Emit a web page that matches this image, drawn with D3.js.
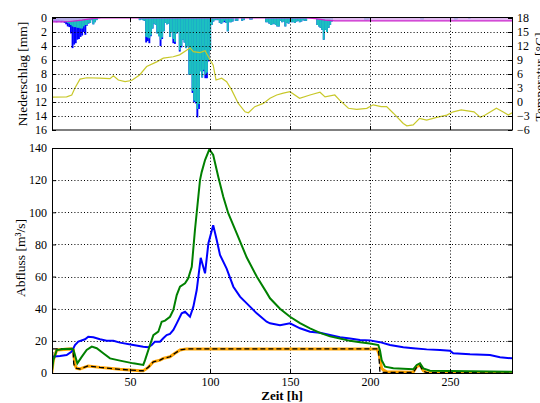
<!DOCTYPE html>
<html>
<head>
<meta charset="utf-8">
<script src="https://cdn.jsdelivr.net/npm/d3@7"></script>
<style>
  body { margin: 0; background: #fff; }
  svg { display: block; }
  text { font-family: "Liberation Serif", "Times New Roman", serif; fill: #000; }
</style>
</head>
<body>
<svg id="chart" width="540" height="403"></svg>
<script>
// ---- Hourly precipitation (mm): total (blue) and rain part (cyan) ----
const precipHours = [1,2,3,4,5,6,7,8,9,10,11,12,13,14,15,16,17,18,19,20,21,22,23,24,25,26,27,28,29,
  56,57,58,59,60,61,62,63,64,65,66,67,68,69,70,71,72,73,74,75,76,77,78,79,80,81,82,83,84,85,86,
  87,88,89,90,91,92,93,94,95,96,97,98,99,100,101,102,103,104,105,106,107,108,109,110,111,112,113,114,
  116,117,120,121,125,126,135,136,137,138,139,140,141,142,143,144,145,146,147,148,149,150,151,152,153,
  154,155,156,157,158,159,160,167,168,169,170,171,172,173,174,175,176,197,198,199,232,233,253,254,262];
const precipTotal = [1.0,0.5,0.5,0.6,0.5,0.5,0.6,0.5,0.7,0.9,1.2,1.3,2.2,4.3,3.8,3.6,3.1,3.0,2.7,2.5,2.0,2.4,1.1,0.8,0.7,0.3,0.9,0.6,0.3,
  0.3,0.2,0.3,0.4,3.5,3.3,3.6,2.6,1.5,0.8,1.0,2.2,2.6,4.0,3.0,1.9,0.7,0.9,0.8,2.7,2.0,3.6,3.7,2.2,2.0,4.8,4.2,3.1,3.5,4.3,4.0,
  8.1,8.0,10.7,12.0,12.2,14.2,13.0,7.6,8.5,7.6,8.6,8.6,6.2,4.6,1.0,0.5,0.3,0.3,0.3,0.7,0.8,0.6,0.6,0.7,1.9,0.6,0.6,0.5,
  0.4,0.4,0.4,0.3,0.2,0.2,0.6,0.6,0.8,1.0,0.9,0.8,1.0,1.2,1.2,0.4,0.6,0.5,1.2,0.7,0.8,0.5,0.6,0.6,0.7,
  0.5,0.4,0.6,0.5,0.3,0.4,0.4,1.0,1.2,1.4,1.7,3.1,1.7,2.0,1.4,1.0,0.5,0.3,0.3,0.2,0.2,0.2,0.2,0.2,0.15];
const precipRain = [0.3,0.2,0.2,0.2,0.2,0.3,0.3,0.3,0.4,0.5,0.7,0.8,1.0,1.2,1.3,1.3,1.4,1.4,1.5,1.5,1.2,1.0,1.0,0.7,0.7,0.3,0.9,0.6,0.3,
  0.3,0.2,0.3,0.4,2.7,2.8,2.9,2.5,1.5,0.8,1.0,2.2,2.6,3.1,2.8,1.9,0.7,0.9,0.8,2.7,2.0,3.0,3.4,2.2,2.0,4.6,4.0,3.1,3.5,4.3,4.0,
  8.1,8.0,10.4,11.8,12.0,13.0,12.3,7.6,8.5,7.4,8.1,7.8,6.0,4.6,1.0,0.5,0.3,0.3,0.3,0.7,0.8,0.6,0.4,0.7,1.9,0.6,0.6,0.5,
  0.4,0.4,0.4,0.3,0.2,0.2,0.6,0.6,0.8,1.0,0.9,0.8,1.0,1.2,1.2,0.4,0.6,0.5,1.2,0.7,0.8,0.5,0.6,0.6,0.7,
  0.5,0.4,0.6,0.5,0.3,0.4,0.4,1.0,1.2,1.4,1.7,3.1,1.7,2.0,1.4,1.0,0.5,0.3,0.3,0.2,0.2,0.2,0.2,0.2,0.15];

// ---- Snow storage (mm, drawn on the precipitation axis) ----
const snowHours  = [1.25, 8, 12, 16, 20, 24, 28, 32, 160, 166, 172, 178, 288.75];
const snowValues = [0.55, 0.55, 0.5, 0.4, 0.3, 0.15, 0.05, 0, 0, 0.1, 0.3, 0.4, 0.4];

// ---- Air temperature (°C, right axis) ----
const tempHours = [1.25,10.4,13.6,15.6,18.75,23,31,37.5,39.6,42.7,46.9,51,56,60.4,66.7,70.8,77,81,85.4,87.5,89.6,
  93.75,96.9,99,102,103.75,107.3,110.4,113.5,117.7,121.9,124,128,133.3,137.5,141.7,145.8,150,156,162.5,168.75,
  171.9,178,181,186.5,191.7,198,202,207,210.4,214.6,220.8,223,227,231,235.4,241.7,248,252,257,265,269,272,279,283,286.5,288.75];
const tempValues = [1.05,1.1,1.5,3.0,4.9,5.2,5.1,5.0,5.6,4.7,4.35,4.6,5.8,7.6,8.6,9.4,9.7,10.1,11.1,11.6,10.8,
  10.6,11.0,9.7,7.9,4.7,5.1,4.35,2.6,-0.3,-2.1,-2.3,-1.0,-0.3,0.8,1.5,1.9,2.2,0.8,1.5,2.1,
  1.1,1.5,0.4,-1.35,-1.6,-1.35,-0.6,-1.0,-1.0,-2.4,-4.6,-5.1,-4.9,-3.5,-3.9,-3.3,-2.8,-2.1,-1.7,-2.1,-3.3,-2.8,-1.35,-2.1,-2.8,-2.3];

// ---- Discharge (m³/s) ----
const observedHours = [1.06,6.25,10.4,13.6,15.6,17.7,21.9,23.9,27.1,31.25,35.4,39.6,43.75,52.1,58.3,61.4,63.6,65.6,68.75,70.8,
  72.9,75,77.1,79.2,82.3,84.4,87.5,89.6,91.7,94.2,96.9,99,102,104.2,106.25,110.4,114.6,118.75,125,129.2,135.4,137.5,
  143.75,150,156.25,162.5,168.75,175,181.25,187.5,193.75,200,206.25,212.5,220.8,227,235.4,243.75,250,252,262.5,275,281.25,288.75];
const observedFlow = [10.1,10.6,11.2,13.3,17.4,19.5,21,22.6,22.2,21,20.1,20,18.9,17.4,16.4,16,17.4,19.5,19.5,21.6,
  23.6,24.3,26.8,30.9,37.1,38.1,35,41.3,51.6,71.7,62,80.7,92,82.8,73.4,65,53.7,47.5,41.3,37.1,31.9,30.9,
  29.7,30.9,27.8,25.7,25,23.6,22.2,21.4,20.6,20.3,19.2,17.4,16,15.4,14.7,14.3,13.9,12.3,11.6,11.2,9.8,9.1];

const simulatedHours = [1.06,2.1,4.2,8.3,13.6,14.6,17.1,19.8,22.9,26.1,29.2,33.3,37.5,43.75,52.1,58.3,59.4,62.5,64.6,67.7,
  69.8,71.9,75,77.1,79.2,81.25,84.4,86.4,88.6,90.6,93.75,94.8,96.9,99.6,102,105.2,108.3,111.4,116.7,122.9,
  129.2,135.4,137.5,143.75,150,156.25,162.5,168.75,175,181.25,187.5,193.75,200,205.2,206.25,207.3,209.4,214.6,227,229.2,
  231.25,233.3,237.5,288.75];
const simulatedFlow = [0,8,14.3,15,15.1,14.5,6,10,14.3,16.4,15.4,12.3,9.1,7.7,6,5,8,17.4,23.6,25.7,
  31.9,32.6,35,39.2,48.5,53.7,55.8,58.9,66.1,89,120,125,132.5,139.2,135.7,122,109.7,99.4,86.9,72,
  60,50,46.5,40,35,31,27.8,25,22.8,21.5,20,19.2,18.3,17.4,14,8,3.9,2.9,2.3,5,
  6,2.9,1.4,0.8];

const routedHours = [1.06,2.1,4.2,13.6,14.6,15.6,16.7,18.75,23.9,31.25,43.75,56.25,58.3,61.4,64.6,68.75,70.8,75,78.1,81.25,
  85.4,204.4,205.6,207.3,208.3,210.4,227,229.2,231.25,233.3,235.4,288.75];
const routedFlow = [0,8,14.3,15,14.5,5,2.9,2.5,4.4,3.5,2.3,1.4,1.4,3.5,7,8,9.1,10.1,12.3,14.3,
  15,15,12,3,1.9,0.8,0.5,4,5,1.5,0.3,0.2];

const limitHours = [1.06,1.8,14.4,14.8,15.6,16.7,18.75,23.9,31.25,43.75,56.25,58.3,61.4,64.6,68.75,70.8,75,78.1,81.25,
  85.4,205.3,206.2,208.3,210.4,227,229.2,231.25,233.3,235.4,288.75];
const limitFlow = [0,15,15,6,3.5,2.9,2.5,4.4,3.5,2.3,1.4,1.4,3.5,7,8,9.1,10.1,12.3,14.3,
  15,15,0.6,0.4,0.3,0.3,3.6,4.6,1.2,0.2,0.1];

// ---- Axis ticks ----
const hourTicks = [50, 100, 150, 200, 250];
const precipTicks = [0, 2, 4, 6, 8, 10, 12, 14, 16];
const tempTicks = [18, 15, 12, 9, 6, 3, 0, -3, -6];
const flowTicks = [0, 20, 40, 60, 80, 100, 120, 140];

// ---- Layout ----
const serif = '"Liberation Serif", "Times New Roman", serif';
const svg = d3.select("#chart");
const left = 52, right = 512;
const top1 = 18, bottom1 = 130;
const top2 = 148, bottom2 = 373;

const x = d3.scaleLinear().domain([1.25, 288.75]).range([left, right]);
const yP = d3.scaleLinear().domain([0, 16]).range([top1, bottom1]);
const yT = d3.scaleLinear().domain([18, -6]).range([top1, bottom1]);
const yQ = d3.scaleLinear().domain([0, 140]).range([bottom2, top2]);

const zip = (a, b) => a.map((v, i) => [v, b[i]]);

svg.append("defs").call(d => {
  d.append("clipPath").attr("id", "clipTop")
    .append("rect").attr("x", left).attr("y", top1).attr("width", right - left).attr("height", bottom1 - top1);
  d.append("clipPath").attr("id", "clipBot")
    .append("rect").attr("x", left).attr("y", top2).attr("width", right - left).attr("height", bottom2 - top2);
});

function grid(g, yScale, yVals, y0, y1) {
  const gg = g.append("g").attr("stroke", "#000").attr("stroke-width", 1)
    .attr("stroke-dasharray", "1,2.2").attr("fill", "none");
  yVals.forEach(v => {
    const yy = Math.round(yScale(v)) + 0.5;
    gg.append("line").attr("x1", left).attr("x2", right).attr("y1", yy).attr("y2", yy);
  });
  hourTicks.forEach(h => {
    const xx = Math.round(x(h)) + 0.5;
    gg.append("line").attr("x1", xx).attr("x2", xx).attr("y1", y0).attr("y2", y1);
  });
}

// ===== Top panel: precipitation and temperature =====
const gTop = svg.append("g");
const bars = gTop.append("g").attr("clip-path", "url(#clipTop)");
const bw = x(2) - x(1);

bars.selectAll("rect.total").data(zip(precipHours, precipTotal)).join("rect")
  .attr("x", d => x(d[0] - 0.5)).attr("width", bw + 0.3)
  .attr("y", yP(0)).attr("height", d => yP(d[1]) - yP(0))
  .attr("fill", "#0000ff");
bars.selectAll("rect.rain").data(zip(precipHours, precipRain)).join("rect")
  .attr("x", d => x(d[0] - 0.5)).attr("width", bw + 0.3)
  .attr("y", yP(0)).attr("height", d => yP(d[1]) - yP(0))
  .attr("fill", "#1cc0c0");

const snow = zip(snowHours, snowValues);
bars.append("path").datum(snow)
  .attr("d", d3.area().x(d => x(d[0])).y0(yP(0)).y1(d => yP(d[1])))
  .attr("fill", "#d9a6ee").attr("opacity", 0.8);
bars.append("path").datum(snow)
  .attr("d", d3.line().x(d => x(d[0])).y(d => yP(d[1])))
  .attr("fill", "none").attr("stroke", "#cc22cc").attr("stroke-width", 1.2);

grid(gTop, yP, [2, 4, 6, 8, 10, 12, 14], top1, bottom1);

bars.append("path").datum(zip(tempHours, tempValues))
  .attr("d", d3.line().x(d => x(d[0])).y(d => yT(d[1])))
  .attr("fill", "none").attr("stroke", "#c8c82a").attr("stroke-width", 1.2);

// axes of the top panel
const axP = d3.axisLeft(yP).tickValues(precipTicks).tickSizeInner(-4).tickSizeOuter(0).tickPadding(5);
gTop.append("g").attr("transform", `translate(${left},0)`).call(axP);
const axT = d3.axisRight(yT).tickValues(tempTicks).tickSizeInner(-4).tickSizeOuter(0).tickPadding(5);
gTop.append("g").attr("transform", `translate(${right},0)`).call(axT);
const axXT = d3.axisBottom(x).tickValues(hourTicks).tickSizeInner(-4).tickSizeOuter(0).tickFormat("");
gTop.append("g").attr("transform", `translate(0,${bottom1})`).call(axXT);
const axXT2 = d3.axisTop(x).tickValues(hourTicks).tickSizeInner(-4).tickSizeOuter(0).tickFormat("");
gTop.append("g").attr("transform", `translate(0,${top1})`).call(axXT2);
gTop.append("rect").attr("x", left + 0.5).attr("y", top1 - 0.5).attr("width", right - left)
  .attr("height", bottom1 - top1 + 0.5).attr("fill", "none").attr("stroke", "#000").attr("stroke-width", 1);

// ===== Bottom panel: discharge =====
const gBot = svg.append("g");
grid(gBot, yQ, [20, 40, 60, 80, 100, 120], top2, bottom2);
const lines = gBot.append("g").attr("clip-path", "url(#clipBot)");
const lineQ = d3.line().x(d => x(d[0])).y(d => yQ(d[1]));

lines.append("path").datum(zip(routedHours, routedFlow)).attr("d", lineQ)
  .attr("fill", "none").attr("stroke", "#ffa500").attr("stroke-width", 3);
lines.append("path").datum(zip(limitHours, limitFlow)).attr("d", lineQ)
  .attr("fill", "none").attr("stroke", "#000").attr("stroke-width", 1.3).attr("stroke-dasharray", "5,3");
lines.append("path").datum(zip(observedHours, observedFlow)).attr("d", lineQ)
  .attr("fill", "none").attr("stroke", "#0000ff").attr("stroke-width", 2);
lines.append("path").datum(zip(simulatedHours, simulatedFlow)).attr("d", lineQ)
  .attr("fill", "none").attr("stroke", "#008000").attr("stroke-width", 2);

const axQ = d3.axisLeft(yQ).tickValues(flowTicks).tickSizeInner(-4).tickSizeOuter(0).tickPadding(5);
gBot.append("g").attr("transform", `translate(${left},0)`).call(axQ);
const axQR = d3.axisRight(yQ).tickValues(flowTicks).tickSizeInner(-4).tickSizeOuter(0).tickFormat("");
gBot.append("g").attr("transform", `translate(${right},0)`).call(axQR);
const axX = d3.axisBottom(x).tickValues(hourTicks).tickSizeInner(-4).tickSizeOuter(0).tickPadding(4);
gBot.append("g").attr("transform", `translate(0,${bottom2})`).call(axX);
const axX2 = d3.axisTop(x).tickValues(hourTicks).tickSizeInner(-4).tickSizeOuter(0).tickFormat("");
gBot.append("g").attr("transform", `translate(0,${top2})`).call(axX2);
gBot.append("rect").attr("x", left + 0.5).attr("y", top2 + 0.5).attr("width", right - left)
  .attr("height", bottom2 - top2).attr("fill", "none").attr("stroke", "#000").attr("stroke-width", 1);

// shared tick styling
svg.selectAll(".domain").remove();
svg.selectAll(".tick text").style("font-size", "12px").style("font-family", serif);
svg.selectAll(".tick line").attr("stroke", "#000");

// ---- Axis titles ----
svg.append("text").attr("transform", "translate(27,74) rotate(-90)")
  .attr("text-anchor", "middle").style("font-family", serif).style("font-size", "13.5px").text("Niederschlag [mm]");
svg.append("text").attr("transform", "translate(544,77) rotate(-90)")
  .attr("text-anchor", "middle").style("font-family", serif).style("font-size", "13.5px").text("Temperatur [°C]");
svg.append("text").attr("transform", "translate(25,258) rotate(-90)")
  .attr("text-anchor", "middle").style("font-family", serif).style("font-size", "13.5px").text("Abfluss [m³/s]");
svg.append("text").attr("x", 282).attr("y", 400)
  .attr("text-anchor", "middle").style("font-family", serif).style("font-size", "13px")
  .style("font-weight", "bold").text("Zeit [h]");
</script>
</body>
</html>
